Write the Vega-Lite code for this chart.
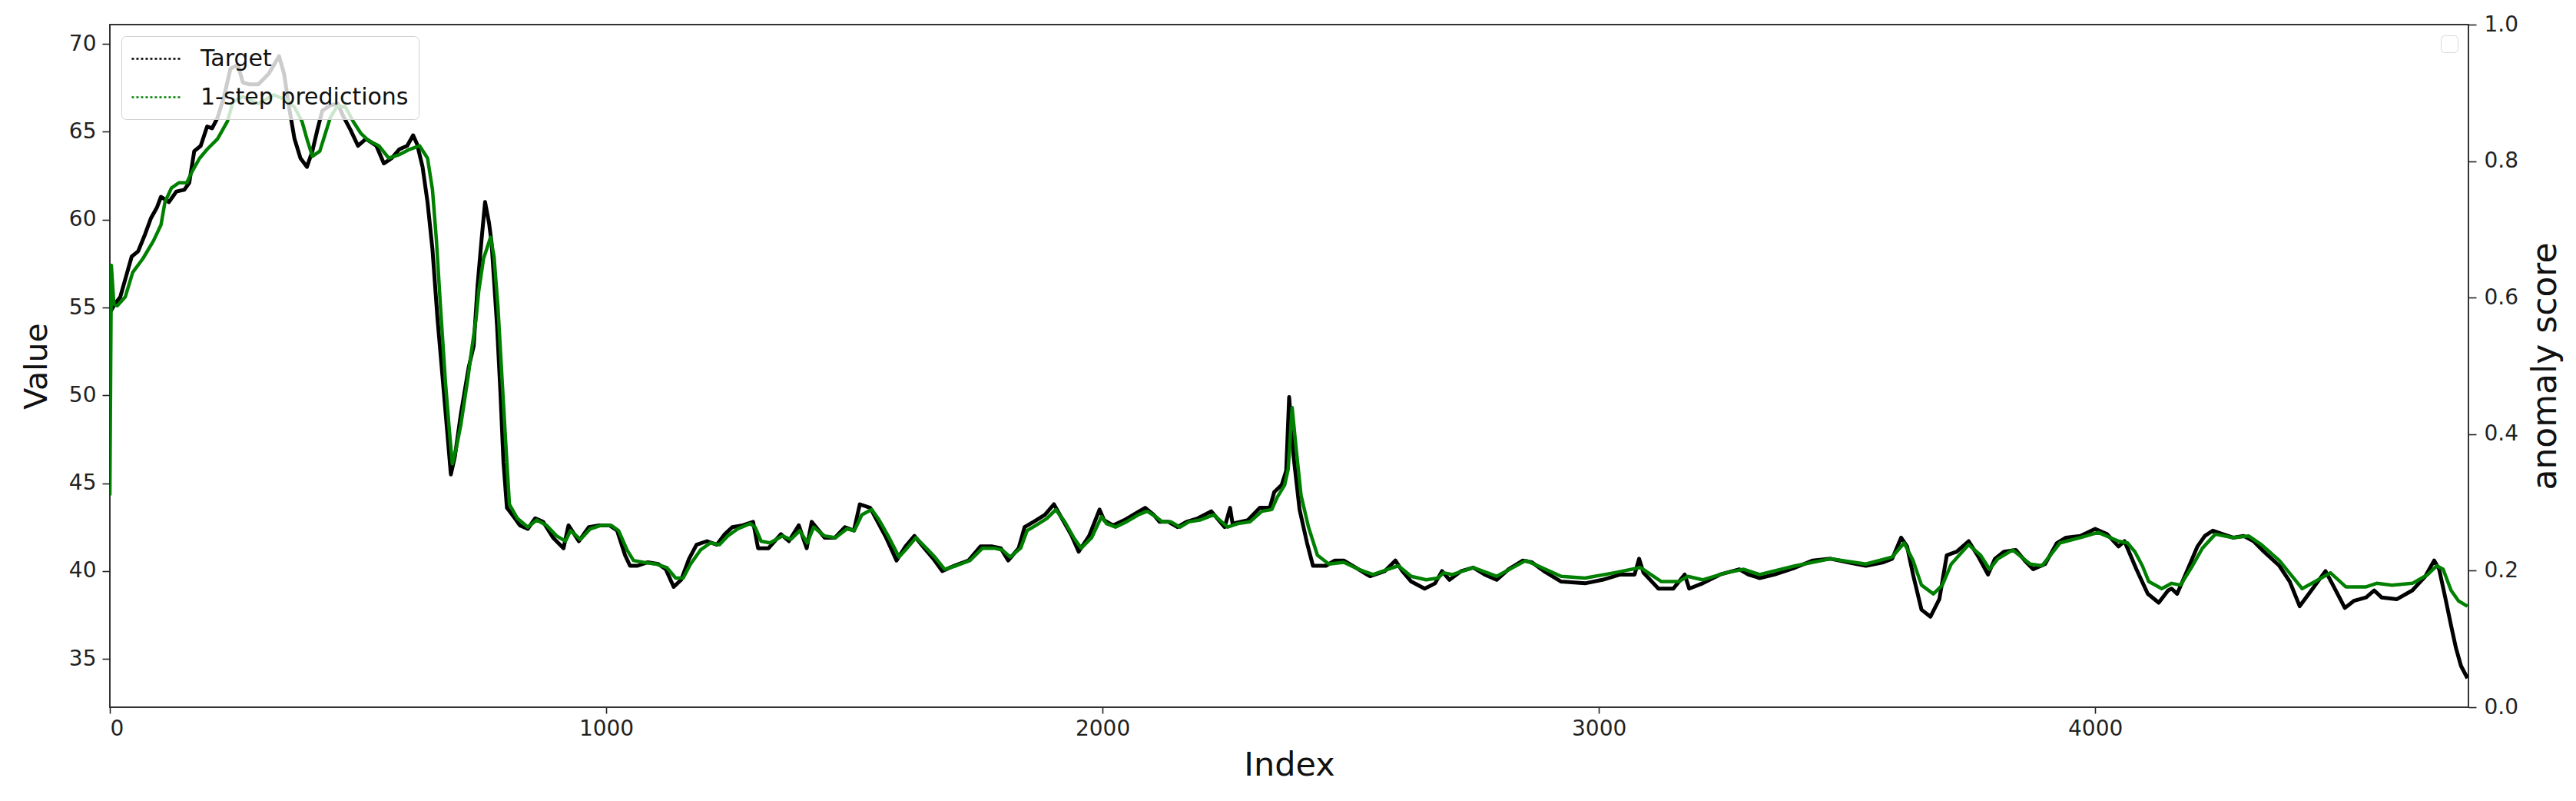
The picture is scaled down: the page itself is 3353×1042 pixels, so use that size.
{
"$schema":"https://vega.github.io/schema/vega-lite/v6.json",
"width":3070,"height":888,
"autosize":{"type":"none"},
"padding":{"left":143,"top":32,"right":140,"bottom":122},
"background":"white",
"config":{"font":"DejaVu Sans","view":{"stroke":"#333333","strokeWidth":2},
"axis":{"grid":false,"domain":false,"tickColor":"#222222","tickWidth":1.6,"labelColor":"#222222","titleColor":"#111111","labelFontSize":28,"titleFontSize":41,"titleFontWeight":"normal","labelFont":"DejaVu Sans","titleFont":"DejaVu Sans"}},
"datasets":{
"tgt":[{"i":0,"v":54.7},{"i":10,"v":55.2},{"i":21,"v":55.6},{"i":31,"v":56.6},{"i":44,"v":57.9},{"i":57,"v":58.2},{"i":70,"v":59.1},{"i":83,"v":60.1},{"i":95,"v":60.7},{"i":103,"v":61.3},{"i":119,"v":61.0},{"i":134,"v":61.6},{"i":150,"v":61.7},{"i":160,"v":62.1},{"i":170,"v":63.9},{"i":183,"v":64.2},{"i":196,"v":65.3},{"i":206,"v":65.2},{"i":217,"v":65.8},{"i":230,"v":67.0},{"i":243,"v":68.6},{"i":258,"v":68.8},{"i":268,"v":67.8},{"i":281,"v":67.7},{"i":299,"v":67.7},{"i":320,"v":68.3},{"i":341,"v":69.3},{"i":351,"v":68.3},{"i":361,"v":66.4},{"i":372,"v":64.6},{"i":384,"v":63.5},{"i":397,"v":63.0},{"i":408,"v":63.9},{"i":418,"v":65.1},{"i":428,"v":66.2},{"i":444,"v":66.5},{"i":459,"v":66.6},{"i":470,"v":65.9},{"i":485,"v":65.1},{"i":500,"v":64.2},{"i":516,"v":64.6},{"i":537,"v":64.2},{"i":552,"v":63.2},{"i":568,"v":63.5},{"i":583,"v":64.0},{"i":599,"v":64.2},{"i":611,"v":64.8},{"i":619,"v":64.3},{"i":630,"v":63.0},{"i":640,"v":61.0},{"i":650,"v":58.3},{"i":660,"v":54.4},{"i":671,"v":50.8},{"i":681,"v":47.5},{"i":687,"v":45.5},{"i":695,"v":46.5},{"i":707,"v":48.9},{"i":723,"v":51.6},{"i":733,"v":52.8},{"i":741,"v":56.3},{"i":749,"v":58.9},{"i":756,"v":61.0},{"i":764,"v":59.8},{"i":769,"v":58.7},{"i":780,"v":54.0},{"i":787,"v":50.1},{"i":793,"v":46.2},{"i":800,"v":43.6},{"i":816,"v":43.0},{"i":826,"v":42.6},{"i":842,"v":42.4},{"i":857,"v":43.0},{"i":873,"v":42.8},{"i":893,"v":41.9},{"i":914,"v":41.3},{"i":924,"v":42.6},{"i":945,"v":41.7},{"i":965,"v":42.5},{"i":986,"v":42.6},{"i":1007,"v":42.6},{"i":1022,"v":42.3},{"i":1038,"v":40.9},{"i":1048,"v":40.3},{"i":1063,"v":40.3},{"i":1084,"v":40.5},{"i":1105,"v":40.4},{"i":1120,"v":40.1},{"i":1136,"v":39.1},{"i":1151,"v":39.5},{"i":1167,"v":40.7},{"i":1182,"v":41.5},{"i":1203,"v":41.7},{"i":1223,"v":41.5},{"i":1239,"v":42.1},{"i":1254,"v":42.5},{"i":1275,"v":42.6},{"i":1296,"v":42.8},{"i":1306,"v":41.3},{"i":1327,"v":41.3},{"i":1352,"v":42.1},{"i":1368,"v":41.7},{"i":1388,"v":42.6},{"i":1404,"v":41.3},{"i":1414,"v":42.8},{"i":1440,"v":41.9},{"i":1461,"v":41.9},{"i":1481,"v":42.5},{"i":1499,"v":42.3},{"i":1511,"v":43.8},{"i":1532,"v":43.6},{"i":1547,"v":42.8},{"i":1564,"v":41.9},{"i":1585,"v":40.6},{"i":1603,"v":41.4},{"i":1621,"v":42.0},{"i":1641,"v":41.3},{"i":1659,"v":40.7},{"i":1677,"v":40.0},{"i":1701,"v":40.3},{"i":1730,"v":40.6},{"i":1754,"v":41.4},{"i":1778,"v":41.4},{"i":1795,"v":41.3},{"i":1810,"v":40.6},{"i":1831,"v":41.3},{"i":1843,"v":42.5},{"i":1861,"v":42.8},{"i":1884,"v":43.2},{"i":1902,"v":43.8},{"i":1920,"v":42.9},{"i":1938,"v":42.0},{"i":1952,"v":41.1},{"i":1973,"v":42.0},{"i":1994,"v":43.5},{"i":2003,"v":42.9},{"i":2021,"v":42.6},{"i":2044,"v":42.9},{"i":2068,"v":43.3},{"i":2086,"v":43.6},{"i":2103,"v":43.2},{"i":2115,"v":42.8},{"i":2133,"v":42.8},{"i":2151,"v":42.5},{"i":2169,"v":42.8},{"i":2192,"v":43.0},{"i":2219,"v":43.4},{"i":2234,"v":42.9},{"i":2246,"v":42.5},{"i":2257,"v":43.6},{"i":2262,"v":42.7},{"i":2293,"v":42.9},{"i":2317,"v":43.6},{"i":2337,"v":43.6},{"i":2346,"v":44.5},{"i":2361,"v":44.9},{"i":2370,"v":45.7},{"i":2376,"v":49.9},{"i":2385,"v":46.5},{"i":2397,"v":43.5},{"i":2412,"v":41.6},{"i":2424,"v":40.3},{"i":2439,"v":40.3},{"i":2450,"v":40.3},{"i":2468,"v":40.6},{"i":2486,"v":40.6},{"i":2510,"v":40.2},{"i":2539,"v":39.7},{"i":2569,"v":40.0},{"i":2590,"v":40.6},{"i":2604,"v":40.0},{"i":2622,"v":39.4},{"i":2649,"v":39.0},{"i":2670,"v":39.3},{"i":2684,"v":40.0},{"i":2699,"v":39.5},{"i":2723,"v":40.0},{"i":2747,"v":40.2},{"i":2770,"v":39.8},{"i":2794,"v":39.5},{"i":2818,"v":40.1},{"i":2847,"v":40.6},{"i":2865,"v":40.5},{"i":2889,"v":40.0},{"i":2924,"v":39.4},{"i":2972,"v":39.3},{"i":3007,"v":39.5},{"i":3043,"v":39.8},{"i":3072,"v":39.8},{"i":3081,"v":40.7},{"i":3090,"v":39.9},{"i":3120,"v":39.0},{"i":3150,"v":39.0},{"i":3173,"v":39.8},{"i":3182,"v":39.0},{"i":3209,"v":39.3},{"i":3244,"v":39.8},{"i":3283,"v":40.1},{"i":3301,"v":39.8},{"i":3324,"v":39.6},{"i":3354,"v":39.8},{"i":3396,"v":40.2},{"i":3431,"v":40.6},{"i":3467,"v":40.7},{"i":3502,"v":40.5},{"i":3538,"v":40.3},{"i":3573,"v":40.5},{"i":3591,"v":40.7},{"i":3609,"v":41.9},{"i":3621,"v":41.4},{"i":3633,"v":39.8},{"i":3650,"v":37.8},{"i":3668,"v":37.4},{"i":3686,"v":38.4},{"i":3701,"v":40.9},{"i":3721,"v":41.1},{"i":3745,"v":41.7},{"i":3763,"v":40.9},{"i":3784,"v":39.8},{"i":3798,"v":40.7},{"i":3816,"v":41.1},{"i":3840,"v":41.2},{"i":3858,"v":40.6},{"i":3875,"v":40.1},{"i":3899,"v":40.4},{"i":3923,"v":41.6},{"i":3941,"v":41.9},{"i":3970,"v":42.0},{"i":4000,"v":42.4},{"i":4024,"v":42.1},{"i":4047,"v":41.4},{"i":4059,"v":41.7},{"i":4083,"v":40.1},{"i":4106,"v":38.7},{"i":4128,"v":38.2},{"i":4147,"v":38.9},{"i":4154,"v":39.0},{"i":4165,"v":38.7},{"i":4185,"v":40.0},{"i":4206,"v":41.4},{"i":4221,"v":42.0},{"i":4237,"v":42.3},{"i":4257,"v":42.1},{"i":4278,"v":41.9},{"i":4299,"v":42.0},{"i":4319,"v":41.7},{"i":4340,"v":41.1},{"i":4371,"v":40.3},{"i":4392,"v":39.4},{"i":4412,"v":38.0},{"i":4433,"v":38.8},{"i":4464,"v":40.0},{"i":4479,"v":39.2},{"i":4503,"v":37.9},{"i":4521,"v":38.3},{"i":4546,"v":38.5},{"i":4562,"v":38.9},{"i":4577,"v":38.5},{"i":4608,"v":38.4},{"i":4639,"v":38.9},{"i":4665,"v":39.7},{"i":4683,"v":40.6},{"i":4693,"v":40.1},{"i":4706,"v":38.4},{"i":4717,"v":36.9},{"i":4727,"v":35.6},{"i":4737,"v":34.6},{"i":4750,"v":33.9}],
"pred":[{"i":0,"v":44.3},{"i":3,"v":57.4},{"i":8,"v":55.2},{"i":15,"v":55.1},{"i":31,"v":55.6},{"i":46,"v":57.0},{"i":67,"v":57.8},{"i":88,"v":58.8},{"i":103,"v":59.7},{"i":111,"v":61.0},{"i":124,"v":61.8},{"i":139,"v":62.1},{"i":155,"v":62.1},{"i":165,"v":62.7},{"i":181,"v":63.5},{"i":196,"v":64.0},{"i":217,"v":64.6},{"i":237,"v":65.6},{"i":248,"v":66.7},{"i":268,"v":67.0},{"i":299,"v":66.6},{"i":330,"v":67.1},{"i":356,"v":66.8},{"i":372,"v":66.4},{"i":387,"v":65.6},{"i":397,"v":64.6},{"i":408,"v":63.6},{"i":423,"v":63.9},{"i":433,"v":64.8},{"i":444,"v":65.8},{"i":459,"v":66.5},{"i":475,"v":66.4},{"i":490,"v":65.6},{"i":506,"v":64.9},{"i":521,"v":64.5},{"i":542,"v":64.2},{"i":562,"v":63.5},{"i":583,"v":63.7},{"i":604,"v":64.0},{"i":624,"v":64.2},{"i":640,"v":63.5},{"i":650,"v":61.7},{"i":658,"v":58.8},{"i":666,"v":55.1},{"i":676,"v":50.8},{"i":684,"v":48.0},{"i":690,"v":46.1},{"i":698,"v":47.0},{"i":707,"v":48.3},{"i":722,"v":51.1},{"i":728,"v":52.4},{"i":738,"v":54.4},{"i":743,"v":55.9},{"i":753,"v":57.8},{"i":759,"v":58.3},{"i":767,"v":59.0},{"i":774,"v":57.9},{"i":782,"v":55.0},{"i":790,"v":51.0},{"i":798,"v":47.1},{"i":805,"v":43.8},{"i":821,"v":43.0},{"i":842,"v":42.5},{"i":860,"v":42.9},{"i":880,"v":42.6},{"i":900,"v":42.0},{"i":918,"v":41.7},{"i":928,"v":42.3},{"i":948,"v":41.8},{"i":968,"v":42.4},{"i":990,"v":42.6},{"i":1010,"v":42.6},{"i":1025,"v":42.3},{"i":1042,"v":41.2},{"i":1055,"v":40.6},{"i":1075,"v":40.5},{"i":1100,"v":40.4},{"i":1122,"v":40.2},{"i":1140,"v":39.6},{"i":1155,"v":39.6},{"i":1170,"v":40.4},{"i":1190,"v":41.2},{"i":1210,"v":41.6},{"i":1228,"v":41.5},{"i":1245,"v":42.0},{"i":1265,"v":42.4},{"i":1290,"v":42.7},{"i":1300,"v":42.5},{"i":1312,"v":41.7},{"i":1330,"v":41.6},{"i":1355,"v":42.0},{"i":1372,"v":41.8},{"i":1390,"v":42.3},{"i":1405,"v":41.6},{"i":1418,"v":42.5},{"i":1440,"v":42.0},{"i":1462,"v":41.9},{"i":1485,"v":42.4},{"i":1500,"v":42.3},{"i":1515,"v":43.2},{"i":1535,"v":43.5},{"i":1550,"v":42.9},{"i":1568,"v":42.0},{"i":1590,"v":40.8},{"i":1606,"v":41.3},{"i":1624,"v":41.9},{"i":1645,"v":41.3},{"i":1662,"v":40.8},{"i":1682,"v":40.1},{"i":1705,"v":40.3},{"i":1733,"v":40.6},{"i":1758,"v":41.3},{"i":1782,"v":41.3},{"i":1798,"v":41.2},{"i":1814,"v":40.8},{"i":1835,"v":41.3},{"i":1848,"v":42.3},{"i":1866,"v":42.6},{"i":1888,"v":43.0},{"i":1906,"v":43.5},{"i":1924,"v":42.8},{"i":1942,"v":41.9},{"i":1957,"v":41.3},{"i":1978,"v":41.9},{"i":1998,"v":43.1},{"i":2008,"v":42.7},{"i":2026,"v":42.5},{"i":2048,"v":42.8},{"i":2072,"v":43.2},{"i":2090,"v":43.4},{"i":2107,"v":43.1},{"i":2120,"v":42.8},{"i":2138,"v":42.8},{"i":2156,"v":42.5},{"i":2174,"v":42.8},{"i":2196,"v":42.9},{"i":2224,"v":43.2},{"i":2240,"v":42.8},{"i":2252,"v":42.5},{"i":2273,"v":42.7},{"i":2297,"v":42.8},{"i":2321,"v":43.4},{"i":2341,"v":43.5},{"i":2352,"v":44.2},{"i":2367,"v":44.9},{"i":2374,"v":45.8},{"i":2382,"v":49.3},{"i":2390,"v":47.0},{"i":2400,"v":44.3},{"i":2415,"v":42.5},{"i":2433,"v":40.9},{"i":2456,"v":40.4},{"i":2486,"v":40.5},{"i":2516,"v":40.1},{"i":2545,"v":39.8},{"i":2575,"v":40.1},{"i":2596,"v":40.3},{"i":2622,"v":39.7},{"i":2652,"v":39.5},{"i":2676,"v":39.6},{"i":2687,"v":39.9},{"i":2705,"v":39.8},{"i":2747,"v":40.2},{"i":2794,"v":39.7},{"i":2853,"v":40.6},{"i":2924,"v":39.7},{"i":2972,"v":39.6},{"i":3031,"v":39.9},{"i":3084,"v":40.2},{"i":3126,"v":39.4},{"i":3161,"v":39.4},{"i":3179,"v":39.7},{"i":3209,"v":39.5},{"i":3256,"v":39.9},{"i":3292,"v":40.1},{"i":3324,"v":39.8},{"i":3396,"v":40.3},{"i":3467,"v":40.7},{"i":3538,"v":40.4},{"i":3591,"v":40.8},{"i":3615,"v":41.6},{"i":3633,"v":40.6},{"i":3650,"v":39.2},{"i":3674,"v":38.7},{"i":3692,"v":39.2},{"i":3710,"v":40.4},{"i":3745,"v":41.5},{"i":3769,"v":40.9},{"i":3787,"v":40.1},{"i":3804,"v":40.7},{"i":3834,"v":41.2},{"i":3869,"v":40.4},{"i":3893,"v":40.3},{"i":3929,"v":41.6},{"i":3970,"v":41.9},{"i":4006,"v":42.2},{"i":4047,"v":41.7},{"i":4065,"v":41.6},{"i":4080,"v":41.1},{"i":4095,"v":40.3},{"i":4108,"v":39.4},{"i":4134,"v":39.0},{"i":4154,"v":39.3},{"i":4172,"v":39.2},{"i":4196,"v":40.3},{"i":4216,"v":41.3},{"i":4242,"v":42.1},{"i":4278,"v":41.9},{"i":4309,"v":42.0},{"i":4335,"v":41.5},{"i":4371,"v":40.6},{"i":4417,"v":39.0},{"i":4443,"v":39.4},{"i":4474,"v":39.9},{"i":4505,"v":39.1},{"i":4546,"v":39.1},{"i":4567,"v":39.3},{"i":4598,"v":39.2},{"i":4639,"v":39.3},{"i":4670,"v":39.8},{"i":4688,"v":40.3},{"i":4701,"v":40.1},{"i":4717,"v":38.9},{"i":4732,"v":38.3},{"i":4750,"v":38.0}],
"score":[{"a":"none","s":0.5}]
},
"layer":[
{"layer":[
 {"data":{"name":"tgt"},"mark":{"type":"line","strokeWidth":5,"clip":true,"strokeJoin":"round"},
  "encoding":{
   "x":{"field":"i","type":"quantitative","scale":{"domain":[0,4752],"nice":false,"zero":false},
        "axis":{"title":"Index","titleFontSize":43,"values":[0,1000,2000,3000,4000],"format":"d","tickSize":8,"labelPadding":6,"titlePadding":12}},
   "y":{"field":"v","type":"quantitative","scale":{"domain":[32.25,71.1],"nice":false,"zero":false},
        "axis":{"title":"Value","values":[35,40,45,50,55,60,65,70],"tickSize":10,"labelPadding":8,"titlePadding":20}},
   "color":{"datum":"Target","type":"nominal","scale":{"domain":["Target","1-step predictions"],"range":["#000000","#008000"]},
        "legend":{"orient":"top-left","title":null,"offset":15,"labelFontSize":30,"labelLimit":0,"labelColor":"#111111","symbolType":"M-1.07,0H3.27","symbolSize":900,"symbolStrokeWidth":2.5,"symbolDash":[3,3],"symbolFillColor":"transparent","padding":13,"rowPadding":18,"labelOffset":57,"fillColor":"rgba(255,255,255,0.8)","strokeColor":"#d0d0d0","cornerRadius":6}}
  }},
 {"data":{"name":"pred"},"mark":{"type":"line","strokeWidth":4.5,"clip":true,"strokeJoin":"round"},
  "encoding":{
   "x":{"field":"i","type":"quantitative"},
   "y":{"field":"v","type":"quantitative"},
   "color":{"datum":"1-step predictions","type":"nominal"}
  }}
]},
{"data":{"name":"score"},"mark":{"type":"point","opacity":0},
 "encoding":{
  "y":{"field":"s","type":"quantitative","scale":{"domain":[0,1],"nice":false},
       "axis":{"orient":"right","title":"anomaly score","titleFontSize":44,"titleAngle":270,"titleBaseline":"top","values":[0,0.2,0.4,0.6,0.8,1.0],"format":".1f","tickSize":10,"labelPadding":10,"titlePadding":14}},
  "shape":{"field":"a","type":"nominal","scale":{"range":["square"]},
       "legend":{"orient":"top-right","title":null,"offset":14,"labelExpr":"''","symbolOpacity":0,"symbolStrokeWidth":0,"symbolSize":100,"labelFontSize":8,"labelOffset":0,"padding":6,"fillColor":"rgba(255,255,255,0.8)","strokeColor":"#d8d8d8","cornerRadius":5}}
 }}
],
"resolve":{"scale":{"y":"independent"}}
}
